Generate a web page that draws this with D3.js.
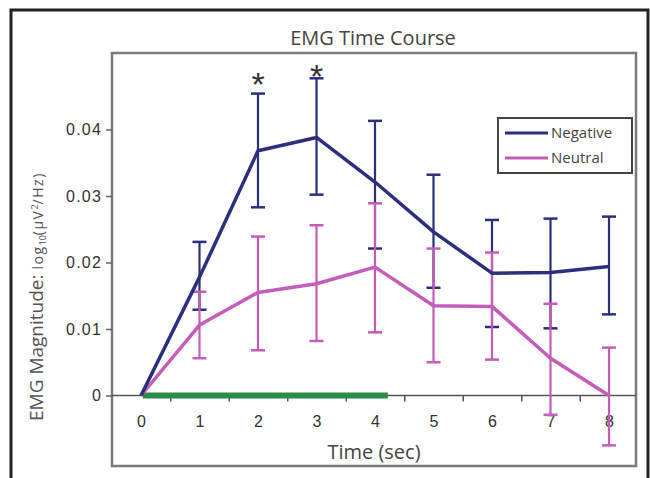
<!DOCTYPE html>
<html>
<head>
<meta charset="utf-8">
<script src="https://cdn.jsdelivr.net/npm/d3@7"></script>
<style>
  body { margin: 0; background: #fff; }
  svg { display: block; }
</style>
</head>
<body>
<script>
// time points (sec)
const times = [0, 1, 2, 3, 4, 5, 6, 7, 8];

// Negative condition
const negMean = [0, 0.0178, 0.0368, 0.0388, 0.0321, 0.0246, 0.0184, 0.0185, 0.0194];
const negLow  = [0, 0.0129, 0.0283, 0.0302, 0.0221, 0.0162, 0.0103, 0.0101, 0.0122];
const negHigh = [0, 0.0231, 0.0454, 0.0477, 0.0413, 0.0332, 0.0264, 0.0266, 0.0269];

// Neutral condition
const neuMean = [0, 0.0106, 0.0155, 0.0168, 0.0193, 0.0135, 0.0134, 0.0056, 0];
const neuLow  = [0, 0.0056, 0.0068, 0.0082, 0.0095, 0.0050, 0.0054, -0.0029, -0.0075];
const neuHigh = [0, 0.0156, 0.0239, 0.0256, 0.0289, 0.0221, 0.0215, 0.0138, 0.0072];

const yTicks = [0, 0.01, 0.02, 0.03, 0.04];
const yTickLabels = ["0", "0.01", "0.02", "0.03", "0.04"];
const xMinorTicks = [0.5, 1.5, 2.5, 3.5, 4.5, 5.5, 6.5, 7.5];
const stimPeriod = [0.03, 4.22];
const sigStars = [{ t: 2, v: 0.0480 }, { t: 3, v: 0.0493 }];

const seriesNames = ["Negative", "Neutral"];
const colors = { Negative: "#2c2f7e", Neutral: "#c65cb9" };

const width = 650, height = 478;
const box = { left: 112, top: 53, right: 636, bottom: 466 };

const svg = d3.select("body").append("svg")
  .attr("width", width)
  .attr("height", height);

// outer frame
svg.append("rect")
  .attr("x", 11).attr("y", 10)
  .attr("width", 637).attr("height", 490)
  .attr("fill", "#fff")
  .attr("stroke", "#222")
  .attr("stroke-width", 3);

let x = d3.scaleLinear().domain([0, 8]).range([141, 609]);
let y = d3.scaleLinear().domain([0, 0.04]).range([395.5, 129.5]);

// plot box
svg.append("rect")
  .attr("x", box.left).attr("y", box.top)
  .attr("width", box.right - box.left).attr("height", box.bottom - box.top)
  .attr("fill", "none")
  .attr("stroke", "#7a7a7a")
  .attr("stroke-width", 2.5);

// title
svg.append("text")
  .attr("x", 373).attr("y", 45)
  .attr("text-anchor", "middle")
  .attr("font-family", "Open Sans")
  .attr("font-size", 20)
  .attr("fill", "#444")
  .text("EMG Time Course");

// y axis
let yAxis = d3.axisLeft(y)
  .tickValues(yTicks)
  .tickFormat((d, i) => yTickLabels[i])
  .tickSize(6)
  .tickPadding(4);

let yg = svg.append("g")
  .attr("transform", `translate(${box.left},0)`)
  .call(yAxis);
yg.select(".domain").remove();
yg.selectAll("line").attr("stroke", "#666").attr("stroke-width", 1.5);
yg.selectAll("text")
  .attr("font-family", "Liberation Sans")
  .attr("font-size", 16)
  .attr("letter-spacing", 1.2)
  .attr("fill", "#333");

// zero line
svg.append("line")
  .attr("x1", box.left).attr("x2", box.right)
  .attr("y1", y(0)).attr("y2", y(0))
  .attr("stroke", "#555")
  .attr("stroke-width", 1.5);

// x axis minor ticks (no line)
let xAxisTicks = d3.axisBottom(x)
  .tickValues(xMinorTicks)
  .tickFormat("")
  .tickSize(6);
let xg = svg.append("g")
  .attr("transform", `translate(0,${y(0)})`)
  .call(xAxisTicks);
xg.select(".domain").remove();
xg.selectAll("line").attr("stroke", "#555").attr("stroke-width", 1.5);

// x labels
let xLab = d3.axisBottom(x)
  .tickValues(times)
  .tickFormat(d3.format("d"))
  .tickSize(0)
  .tickPadding(20);
let xl = svg.append("g")
  .attr("transform", `translate(0,${y(0)})`)
  .call(xLab);
xl.select(".domain").remove();
xl.selectAll("text")
  .attr("font-family", "Liberation Sans")
  .attr("font-size", 16)
  .attr("fill", "#333");

// x axis title
svg.append("text")
  .attr("x", 374).attr("y", 459)
  .attr("text-anchor", "middle")
  .attr("font-family", "Open Sans")
  .attr("font-size", 20)
  .attr("fill", "#444")
  .text("Time (sec)");

// y axis title
let yt = svg.append("text")
  .attr("transform", "translate(43,421) rotate(-90)")
  .attr("font-family", "Open Sans")
  .attr("fill", "#555");
yt.append("tspan").attr("font-size", 19).text("EMG Magnitude: ");
yt.append("tspan").attr("font-size", 14).attr("letter-spacing", 1.5).text("log");
yt.append("tspan").attr("font-size", 9).attr("dy", 3).text("10");
yt.append("tspan").attr("font-size", 14).attr("dy", -3).attr("letter-spacing", 1.5).text("(μV");
yt.append("tspan").attr("font-size", 9).attr("dy", -5).text("2");
yt.append("tspan").attr("font-size", 14).attr("dy", 5).attr("letter-spacing", 1.5).text("/Hz)");

// stimulus bar
svg.append("line")
  .attr("x1", x(stimPeriod[0])).attr("x2", x(stimPeriod[1]))
  .attr("y1", y(0)).attr("y2", y(0))
  .attr("stroke", "#2d8a4a")
  .attr("stroke-width", 6);

let series = [
  { name: "Negative", mean: negMean, low: negLow, high: negHigh },
  { name: "Neutral", mean: neuMean, low: neuLow, high: neuHigh }
];

let capW = 7;

// error bars
series.forEach(s => {
  let pts = times.map((t, i) => ({ t: t, lo: s.low[i], hi: s.high[i] })).filter(d => d.t > 0);
  let g = svg.append("g").attr("stroke", colors[s.name]).attr("stroke-width", 2.2);
  g.selectAll(".stem").data(pts).enter().append("line")
    .attr("x1", d => x(d.t)).attr("x2", d => x(d.t))
    .attr("y1", d => y(d.lo)).attr("y2", d => y(d.hi));
  g.selectAll(".capHi").data(pts).enter().append("line")
    .attr("x1", d => x(d.t) - capW).attr("x2", d => x(d.t) + capW)
    .attr("y1", d => y(d.hi)).attr("y2", d => y(d.hi))
    .attr("stroke-width", 2.5);
  g.selectAll(".capLo").data(pts).enter().append("line")
    .attr("x1", d => x(d.t) - capW).attr("x2", d => x(d.t) + capW)
    .attr("y1", d => y(d.lo)).attr("y2", d => y(d.lo))
    .attr("stroke-width", 2.5);
});

// mean lines
let line = d3.line().x(d => x(d[0])).y(d => y(d[1]));
[series[1], series[0]].forEach(s => {
  svg.append("path")
    .datum(d3.zip(times, s.mean))
    .attr("d", line)
    .attr("fill", "none")
    .attr("stroke", colors[s.name])
    .attr("stroke-width", 3.5)
    .attr("stroke-linejoin", "round");
});

// significance stars
svg.selectAll(".star").data(sigStars).enter().append("text")
  .attr("x", d => x(d.t))
  .attr("y", d => y(d.v) + 20)
  .attr("text-anchor", "middle")
  .attr("font-family", "Liberation Sans")
  .attr("font-size", 34)
  .attr("fill", "#333")
  .text("*");

// legend
let lg = svg.append("g");
lg.append("rect")
  .attr("x", 498).attr("y", 118)
  .attr("width", 134).attr("height", 55)
  .attr("fill", "#fff")
  .attr("stroke", "#444")
  .attr("stroke-width", 2);
seriesNames.forEach((n, i) => {
  let ly = 133 + i * 25;
  lg.append("line")
    .attr("x1", 505).attr("x2", 548)
    .attr("y1", ly).attr("y2", ly)
    .attr("stroke", colors[n])
    .attr("stroke-width", 3);
  lg.append("text")
    .attr("x", 551).attr("y", ly + 5)
    .attr("font-family", "Open Sans")
    .attr("font-size", 15)
    .attr("fill", "#444")
    .text(n);
});
</script>
</body>
</html>
